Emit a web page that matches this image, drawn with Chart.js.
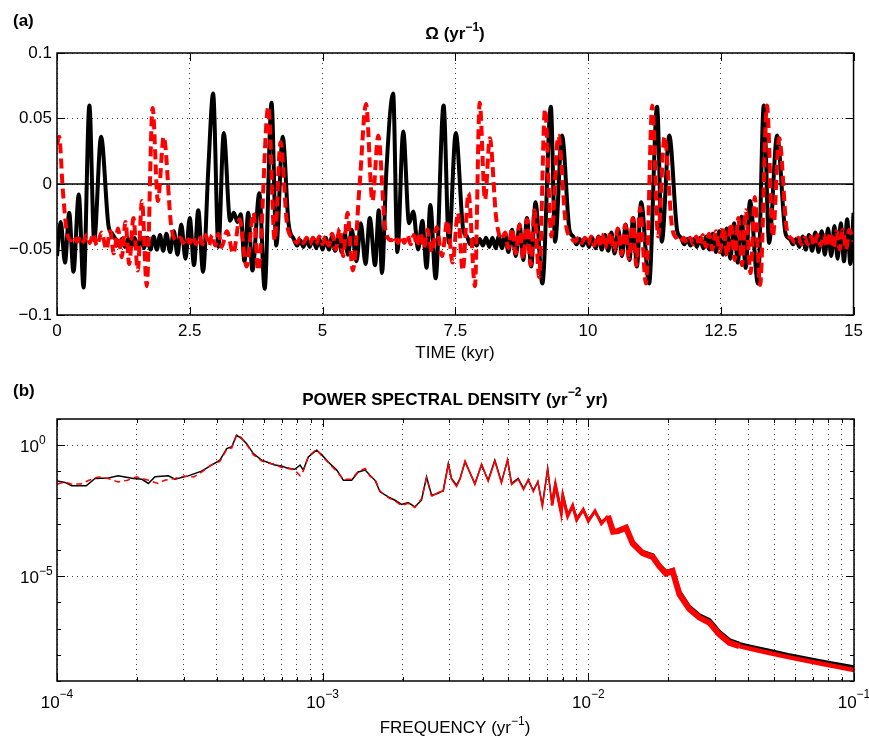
<!DOCTYPE html>
<html>
<head>
<meta charset="utf-8">
<script src="https://cdn.jsdelivr.net/npm/chart.js@4.4.1/dist/chart.umd.min.js"></script>
<style>
  html, body { margin: 0; padding: 0; background: #fff; }
  #wrap { position: relative; width: 869px; height: 737px; }
  canvas { position: absolute; left: 0; }
  #chartOmega { top: 0; }
  #chartPsd { top: 370px; }
</style>
</head>
<body>
<div id="wrap">
  <canvas id="chartOmega" width="869" height="370"></canvas>
  <canvas id="chartPsd" width="869" height="367"></canvas>
</div>
<script>
// (a) Omega ao longo do tempo
const timeTicks = [0, 2.5, 5, 7.5, 10, 12.5, 15];
const omegaTicks = [-0.1, -0.05, 0, 0.05, 0.1];
const zeroT = [0, 15];
const zeroV = [0, 0];

const blackT = [0.00, 0.07, 0.15, 0.23, 0.31, 0.41, 0.50, 0.61, 0.70, 0.83, 0.97, 1.04,
  1.10, 1.16, 1.22, 1.28, 1.34, 1.40, 1.46, 1.52, 1.58, 1.64, 1.70, 1.76, 1.82, 1.88, 1.94, 2.00, 2.06,
  2.13, 2.20, 2.27, 2.34, 2.42, 2.50, 2.58, 2.66, 2.75, 2.85, 2.94, 3.04, 3.14, 3.26, 3.33, 3.40, 3.46, 3.53, 3.60, 3.68, 3.81, 3.91, 4.04, 4.13, 4.25, 4.36,
  4.46, 4.52, 4.58, 4.64, 4.70, 4.76, 4.82, 4.88, 4.94, 5.00, 5.06, 5.12, 5.18, 5.24, 5.30, 5.36, 5.42, 5.48,
  5.55, 5.64, 5.72, 5.81, 5.89, 5.99, 6.06, 6.12, 6.20, 6.33, 6.41, 6.52, 6.63, 6.71, 6.80, 6.88, 6.96, 7.03, 7.13, 7.28, 7.38, 7.51, 7.65,
  7.72, 7.78, 7.84, 7.90, 7.96, 8.02, 8.08, 8.14, 8.20, 8.26, 8.32, 8.38,
  8.44, 8.50, 8.57, 8.64, 8.71, 8.78, 8.85, 8.93, 9.01, 9.14, 9.30, 9.38, 9.51, 9.65,
  9.72, 9.78, 9.84, 9.90, 9.96, 10.02, 10.08, 10.14, 10.20, 10.26, 10.32, 10.38,
  10.44, 10.50, 10.57, 10.64, 10.71, 10.78, 10.85, 10.92, 11.00, 11.15, 11.30, 11.39, 11.53, 11.68,
  11.75, 11.81, 11.87, 11.93, 11.99, 12.05, 12.11, 12.17, 12.23, 12.29,
  12.35, 12.41, 12.47, 12.54, 12.61, 12.68, 12.75, 12.82, 12.89, 12.97, 13.05, 13.20, 13.31, 13.41, 13.56, 13.72,
  13.80, 13.86, 13.92, 13.98, 14.04, 14.10, 14.16, 14.22, 14.28, 14.34, 14.40, 14.46, 14.52, 14.58, 14.64, 14.70, 14.76, 14.82, 14.88, 14.94, 15.00];
const blackV = [-0.055, -0.029, -0.060, -0.022, -0.067, -0.008, -0.079, 0.060, -0.043, 0.036, -0.032, -0.038,
  -0.042, -0.047, -0.042, -0.048, -0.042, -0.048, -0.041, -0.049, -0.041, -0.049, -0.041, -0.050, -0.040, -0.050, -0.039, -0.051, -0.038,
  -0.052, -0.036, -0.054, -0.031, -0.057, -0.026, -0.062, -0.020, -0.067, 0.012, 0.069, -0.048, 0.039, -0.028, -0.022, -0.029, -0.023, -0.059, -0.022, -0.066, -0.007, -0.080, 0.062, -0.047, 0.036, -0.030,
  -0.042, -0.047, -0.043, -0.048, -0.042, -0.048, -0.041, -0.049, -0.042, -0.050, -0.041, -0.050, -0.040, -0.051, -0.039, -0.052, -0.038, -0.054,
  -0.035, -0.059, -0.030, -0.061, -0.026, -0.062, -0.020, -0.068, 0.008, 0.069, -0.052, 0.040, -0.030, -0.021, -0.050, -0.028, -0.064, -0.016, -0.072, 0.060, -0.045, 0.039, -0.035,
  -0.040, -0.046, -0.042, -0.047, -0.042, -0.047, -0.041, -0.048, -0.041, -0.049, -0.040, -0.049,
  -0.038, -0.052, -0.035, -0.055, -0.031, -0.058, -0.026, -0.063, -0.014, -0.076, 0.059, -0.044, 0.037, -0.035,
  -0.040, -0.046, -0.042, -0.047, -0.042, -0.048, -0.041, -0.049, -0.040, -0.050, -0.039, -0.051,
  -0.037, -0.053, -0.035, -0.055, -0.031, -0.058, -0.026, -0.063, -0.014, -0.076, 0.059, -0.044, 0.037, -0.036,
  -0.041, -0.046, -0.042, -0.047, -0.042, -0.048, -0.041, -0.049, -0.040, -0.050,
  -0.038, -0.052, -0.036, -0.054, -0.034, -0.057, -0.030, -0.060, -0.025, -0.064, -0.013, -0.076, 0.060, -0.045, 0.037, -0.038,
  -0.042, -0.046, -0.042, -0.048, -0.040, -0.050, -0.039, -0.051, -0.037, -0.052, -0.036, -0.054, -0.034, -0.055, -0.032, -0.057, -0.030, -0.059, -0.027, -0.061, -0.022];

const redT = [0.00, 0.04, 0.11, 0.18, 0.26, 0.32, 0.38, 0.44, 0.50, 0.56, 0.62, 0.68, 0.75, 0.84, 0.93, 1.00, 1.07, 1.15, 1.22, 1.29, 1.36, 1.44, 1.52, 1.60, 1.69, 1.80, 1.90, 2.01, 2.15,
  2.26, 2.32, 2.38, 2.44, 2.50, 2.56, 2.62, 2.68, 2.74, 2.80, 2.86, 2.92, 2.98, 3.04, 3.10,
  3.20, 3.32, 3.44, 3.57, 3.70, 3.79, 3.98, 4.10, 4.21, 4.33, 4.45,
  4.52, 4.58, 4.64, 4.70, 4.76, 4.82, 4.88, 4.94, 5.00, 5.06, 5.12, 5.18, 5.25, 5.32, 5.39, 5.47, 5.57, 5.70, 5.82, 5.94, 6.05, 6.18, 6.30,
  6.36, 6.42, 6.48, 6.54, 6.60, 6.66, 6.72, 6.78, 6.84, 6.91, 6.98, 7.06, 7.15, 7.25, 7.35, 7.45, 7.55, 7.64, 7.75, 7.87, 7.96, 8.06, 8.15, 8.27, 8.38,
  8.44, 8.50, 8.57, 8.64, 8.71, 8.78, 8.85, 8.92, 8.99, 9.08, 9.19, 9.31, 9.44, 9.58, 9.70,
  9.76, 9.82, 9.88, 9.94, 10.00, 10.06, 10.12, 10.18, 10.24, 10.30, 10.36, 10.42, 10.49, 10.56, 10.63, 10.70, 10.77, 10.84, 10.91, 10.98, 11.09, 11.21, 11.32, 11.44, 11.58, 11.68,
  11.74, 11.80, 11.86, 11.92, 11.98, 12.04, 12.10, 12.16, 12.22, 12.28, 12.34, 12.41, 12.48, 12.55, 12.62, 12.69, 12.76, 12.83, 12.90, 12.97, 13.06, 13.14, 13.24, 13.37, 13.48, 13.60, 13.74, 13.84,
  13.90, 13.96, 14.02, 14.08, 14.14, 14.20, 14.26, 14.32, 14.38, 14.44, 14.50, 14.56, 14.62, 14.68, 14.74, 14.80, 14.86, 14.92, 15.00];
const redV = [0.030, 0.036, -0.005, -0.035, -0.043, -0.040, -0.044, -0.040, -0.044, -0.039, -0.045, -0.038, -0.047, -0.037, -0.050, -0.036, -0.053, -0.034, -0.056, -0.029, -0.061, -0.026, -0.066, -0.013, -0.078, 0.058, -0.013, 0.036, -0.032,
  -0.043, -0.041, -0.045, -0.041, -0.045, -0.040, -0.046, -0.040, -0.046, -0.039, -0.047, -0.039, -0.047, -0.038, -0.048,
  -0.036, -0.053, -0.027, -0.063, -0.022, -0.066, 0.059, -0.043, 0.032, -0.030, -0.042,
  -0.045, -0.041, -0.045, -0.041, -0.046, -0.041, -0.046, -0.040, -0.046, -0.040, -0.047, -0.038, -0.050, -0.034, -0.055, -0.022, -0.066, 0.000, 0.061, -0.013, 0.037, -0.034, -0.043,
  -0.040, -0.045, -0.040, -0.045, -0.039, -0.046, -0.039, -0.047, -0.037, -0.049, -0.035, -0.052, -0.033, -0.055, -0.028, -0.060, -0.022, -0.066, -0.007, -0.078, 0.062, -0.012, 0.035, -0.026, -0.042,
  -0.037, -0.049, -0.034, -0.053, -0.031, -0.057, -0.027, -0.062, -0.020, -0.071, 0.057, -0.040, 0.037, -0.030, -0.042,
  -0.044, -0.041, -0.045, -0.041, -0.046, -0.040, -0.047, -0.039, -0.048, -0.038, -0.049, -0.037, -0.051, -0.034, -0.054, -0.031, -0.057, -0.026, -0.062, -0.018, -0.076, 0.060, -0.040, 0.036, -0.032, -0.042,
  -0.044, -0.041, -0.045, -0.041, -0.046, -0.040, -0.047, -0.039, -0.048, -0.038, -0.050, -0.036, -0.052, -0.033, -0.055, -0.030, -0.058, -0.026, -0.062, -0.020, -0.068, -0.010, -0.077, 0.060, -0.040, 0.035, -0.034, -0.042,
  -0.045, -0.041, -0.046, -0.041, -0.046, -0.040, -0.047, -0.039, -0.047, -0.039, -0.048, -0.037, -0.049, -0.036, -0.050, -0.035, -0.050, -0.035, -0.044];

// (b) densidade espectral (expoentes lidos: log10 f, log10 P)
const freqMajor = [1e-4, 1e-3, 1e-2, 1e-1];
const freqMinorMult = [2, 3, 4, 5, 6, 7, 8, 9];
const psdTicks = [1e-5, 1e0];
const psdDecades = [1e-9, 1e-8, 1e-7, 1e-6, 1e-5, 1e-4, 1e-3, 1e-2, 1e-1, 1e0, 1e1];

const psdBlackLogF = [-4.000, -3.970, -3.945, -3.890, -3.857, -3.807, -3.770, -3.713, -3.680, -3.656, -3.631, -3.581, -3.556, -3.506,
  -3.456, -3.418, -3.387, -3.361, -3.342, -3.324, -3.305, -3.286, -3.261, -3.230, -3.205, -3.180, -3.155, -3.130, -3.105, -3.085, -3.073,
  -3.054, -3.023, -3.004, -2.979, -2.947, -2.922, -2.891, -2.866, -2.840, -2.822, -2.803, -2.784, -2.753, -2.728, -2.703, -2.678, -2.653,
  -2.628, -2.609, -2.590, -2.565, -2.546, -2.527, -2.515, -2.496, -2.483, -2.464, -2.427, -2.402, -2.377, -2.352, -2.327, -2.304, -2.289,
  -2.264, -2.244, -2.226, -2.207, -2.190, -2.173, -2.153, -2.137, -2.124, -2.102, -2.096, -2.078, -2.059, -2.044, -2.019, -2.000, -1.975,
  -1.951, -1.926, -1.907, -1.889, -1.858, -1.833, -1.796, -1.758, -1.733, -1.708, -1.683, -1.657, -1.620, -1.582, -1.544, -1.507, -1.469,
  -1.432, -1.394, -1.323, -1.248, -1.122, -1.000];
const psdBlackLogP = [-1.37, -1.42, -1.55, -1.55, -1.27, -1.25, -1.17, -1.27, -1.30, -1.46, -1.20, -1.17, -1.30, -1.17,
  -0.99, -0.76, -0.57, -0.13, -0.06, 0.38, 0.25, 0.06, -0.32, -0.57, -0.66, -0.76, -0.79, -0.89, -0.92, -0.76, -0.95,
  -0.45, -0.19, -0.36, -0.64, -0.95, -1.34, -1.34, -1.02, -0.95, -1.15, -1.34, -1.78, -1.97, -2.10, -2.26, -2.19, -2.35,
  -2.10, -1.21, -1.91, -1.84, -1.72, -0.70, -1.27, -1.53, -1.27, -0.64, -1.46, -0.76, -1.34, -0.57, -1.40, -0.57, -1.46,
  -1.27, -1.65, -1.34, -1.72, -1.40, -2.29, -0.89, -2.23, -1.53, -2.54, -1.91, -2.67, -2.35, -2.80, -2.48, -2.86, -2.54,
  -2.93, -2.74, -3.24, -3.31, -3.18, -3.69, -4.07, -4.20, -4.58, -4.83, -4.77, -5.60, -6.17, -6.49, -6.68, -7.12, -7.44,
  -7.57, -7.66, -7.82, -7.99, -8.24, -8.46];

const psdRedLogF = [-4.000, -3.970, -3.945, -3.910, -3.880, -3.845, -3.807, -3.770, -3.735, -3.700, -3.656, -3.620, -3.595, -3.556, -3.520, -3.485,
  -3.456, -3.418, -3.387, -3.361, -3.342, -3.324, -3.305, -3.286, -3.261, -3.230, -3.205, -3.180, -3.155, -3.130, -3.105, -3.085, -3.073,
  -3.054, -3.023, -3.004, -2.979, -2.947, -2.922, -2.891, -2.866, -2.840, -2.822, -2.803, -2.784, -2.753, -2.728, -2.703, -2.678, -2.653,
  -2.628, -2.609, -2.590, -2.565, -2.546, -2.527, -2.515, -2.496, -2.483, -2.464, -2.427, -2.402, -2.377, -2.352, -2.327, -2.304, -2.289,
  -2.264, -2.244, -2.226, -2.207, -2.190, -2.173, -2.153, -2.137, -2.124, -2.102, -2.096, -2.078, -2.059, -2.044, -2.019, -2.000, -1.975,
  -1.951, -1.926, -1.907, -1.889, -1.858, -1.833, -1.796, -1.758, -1.733, -1.708, -1.683, -1.657, -1.620, -1.582, -1.544, -1.507, -1.469,
  -1.432, -1.394, -1.323, -1.248, -1.122, -1.000];
const psdRedLogP = [-1.49, -1.40, -1.49, -1.48, -1.34, -1.21, -1.27, -1.40, -1.34, -1.21, -1.34, -1.46, -1.34, -1.27, -1.18, -1.21,
  -1.03, -0.74, -0.62, -0.16, -0.10, 0.40, 0.28, 0.02, -0.36, -0.60, -0.69, -0.72, -0.85, -0.86, -0.95, -1.17, -0.98,
  -0.43, -0.16, -0.40, -0.66, -1.00, -1.30, -1.30, -1.00, -0.89, -1.18, -1.30, -1.75, -2.00, -2.13, -2.30, -2.22, -2.38,
  -2.05, -1.25, -1.95, -1.80, -1.75, -0.74, -1.30, -1.58, -1.30, -0.60, -1.50, -0.72, -1.38, -0.60, -1.45, -0.55, -1.50,
  -1.30, -1.70, -1.30, -1.78, -1.38, -2.35, -0.92, -2.30, -1.50, -2.60, -1.95, -2.72, -2.30, -2.86, -2.45, -2.90, -2.50,
  -3.00, -2.70, -3.30, -3.28, -3.15, -3.75, -4.12, -4.26, -4.62, -4.90, -4.80, -5.70, -6.25, -6.58, -6.78, -7.22, -7.54,
  -7.67, -7.76, -7.92, -8.09, -8.34, -8.58];

const FONT = "'Liberation Sans', Arial, Helvetica, sans-serif";

function pontos(xs, ys) {
    return xs.map((x, i) => ({ x: x, y: ys[i] }));
}
function pontosLog(lf, lp) {
    return lf.map((f, i) => ({ x: Math.pow(10, f), y: Math.pow(10, lp[i]) }));
}

// texto com expoente: partes = [[texto, sobrescrito?], ...]
function textoRico(ctx, partes, x, base, align, bold, sup) {
    const fMain = (bold ? 'bold ' : '') + '17px ' + FONT;
    const fSup = (bold ? 'bold ' : '') + '12px ' + FONT;
    let w = 0;
    partes.forEach(p => { ctx.font = p[1] ? fSup : fMain; w += ctx.measureText(p[0]).width; });
    let x0 = align === 'center' ? x - w / 2 : (align === 'right' ? x - w : x);
    ctx.textAlign = 'left';
    ctx.textBaseline = 'alphabetic';
    ctx.fillStyle = '#000';
    partes.forEach(p => {
        ctx.font = p[1] ? fSup : fMain;
        ctx.fillText(p[0], x0, p[1] ? base - sup : base);
        x0 += ctx.measureText(p[0]).width;
    });
}

// moldura e marcas internas (estilo MATLAB)
function moldura(chart, xMarks, yMarks) {
    const { ctx, chartArea: a, scales } = chart;
    ctx.save();
    ctx.strokeStyle = '#000';
    ctx.lineWidth = 1;
    ctx.beginPath();
    xMarks.forEach(m => {
        const px = Math.round(scales.x.getPixelForValue(m[0])) + 0.5;
        ctx.moveTo(px, a.bottom); ctx.lineTo(px, a.bottom - m[1]);
        ctx.moveTo(px, a.top); ctx.lineTo(px, a.top + m[1]);
    });
    yMarks.forEach(m => {
        const py = Math.round(scales.y.getPixelForValue(m[0])) + 0.5;
        ctx.moveTo(a.left, py); ctx.lineTo(a.left + m[1], py);
        ctx.moveTo(a.right, py); ctx.lineTo(a.right - m[1], py);
    });
    ctx.stroke();
    ctx.lineWidth = 1.5;
    ctx.strokeRect(a.left, a.top, a.right - a.left, a.bottom - a.top);
    ctx.restore();
}

const gridOpts = { color: 'rgba(0,0,0,0.75)', lineWidth: 1, drawTicks: false, tickLength: 0 };
const borderOpts = { display: false, dash: [1, 4] };

// Gráfico (a)
new Chart(document.getElementById('chartOmega').getContext('2d'), {
    type: 'line',
    data: {
        datasets: [
            { data: pontos(redT, redV), borderColor: '#ff0000', borderWidth: 4, borderDash: [10, 5],
              cubicInterpolationMode: 'monotone', pointRadius: 0, order: 1 },
            { data: pontos(blackT, blackV), borderColor: '#000000', borderWidth: 4,
              cubicInterpolationMode: 'monotone', pointRadius: 0, order: 2 },
            { data: pontos(zeroT, zeroV), borderColor: '#000000', borderWidth: 1.5,
              pointRadius: 0, order: 3 }
        ]
    },
    options: {
        responsive: false,
        animation: false,
        devicePixelRatio: 1,
        layout: { padding: { top: 53, right: 15, left: 0, bottom: 0 } },
        plugins: { legend: { display: false }, tooltip: { enabled: false }, title: { display: false } },
        scales: {
            x: {
                type: 'linear', min: 0, max: 15,
                afterBuildTicks: s => { s.ticks = timeTicks.map(v => ({ value: v })); },
                afterFit: s => { s.height = 55; },
                ticks: { autoSkip: false, maxRotation: 0, padding: 6, color: '#000',
                         font: { family: FONT, size: 17 }, callback: v => String(v) },
                grid: gridOpts, border: borderOpts
            },
            y: {
                type: 'linear', min: -0.1, max: 0.1,
                afterBuildTicks: s => { s.ticks = omegaTicks.map(v => ({ value: v })); },
                afterFit: s => { s.width = 57; },
                ticks: { autoSkip: false, padding: 5, color: '#000', font: { family: FONT, size: 17 },
                         callback: v => { const r = Math.round(v * 100) / 100; return r < 0 ? '\u2212' + String(-r) : String(r); } },
                grid: gridOpts, border: borderOpts
            }
        }
    },
    plugins: [{
        id: 'textosA',
        afterDraw(chart) {
            const ctx = chart.ctx;
            moldura(chart, timeTicks.map(v => [v, 8]), omegaTicks.map(v => [v, 8]));
            ctx.save();
            textoRico(ctx, [['(a)', 0]], 13, 26, 'left', true, 8);
            textoRico(ctx, [['\u03A9 (yr', 0], ['\u22121', 1], [')', 0]], 455, 39, 'center', true, 8);
            textoRico(ctx, [['TIME (kyr)', 0]], 455, 358, 'center', false, 8);
            ctx.restore();
        }
    }]
});

// Gráfico (b)
const freqTicks = [];
freqMajor.forEach((d, i) => {
    freqTicks.push(d);
    if (i < freqMajor.length - 1) freqMinorMult.forEach(m => freqTicks.push(d * m));
});

function larguraBanda(ctx, fina, media, grossa, ponta) {
    const lf = Math.log10(ctx.p0.parsed.x);
    if (lf < -2.15) return fina;
    if (lf < -1.95) return media;
    if (lf < -1.45) return grossa;
    return ponta;
}

new Chart(document.getElementById('chartPsd').getContext('2d'), {
    type: 'line',
    data: {
        datasets: [
            { data: pontosLog(psdRedLogF, psdRedLogP), borderColor: '#ff0000', borderWidth: 1.5, borderDash: [6, 4],
              pointRadius: 0, order: 1,
              segment: {
                  borderWidth: c => larguraBanda(c, 1.5, 3, 6, 4.5),
                  borderDash: c => Math.log10(c.p0.parsed.x) < -2.6 ? [6, 4] : []
              } },
            { data: pontosLog(psdBlackLogF, psdBlackLogP), borderColor: '#000000', borderWidth: 1.5,
              pointRadius: 0, order: 2,
              segment: { borderWidth: c => larguraBanda(c, 1.5, 2.5, 4, 3) } }
        ]
    },
    options: {
        responsive: false,
        animation: false,
        devicePixelRatio: 1,
        layout: { padding: { top: 49, right: 15, left: 0, bottom: 0 } },
        plugins: { legend: { display: false }, tooltip: { enabled: false }, title: { display: false } },
        scales: {
            x: {
                type: 'logarithmic', min: 1e-4, max: 1e-1,
                afterBuildTicks: s => { s.ticks = freqTicks.map(v => ({ value: v })); },
                afterFit: s => { s.height = 56; },
                ticks: { display: false },
                grid: gridOpts, border: borderOpts
            },
            y: {
                type: 'logarithmic', min: 1e-9, max: 1e1,
                afterBuildTicks: s => { s.ticks = psdTicks.map(v => ({ value: v })); },
                afterFit: s => { s.width = 57; },
                ticks: { display: false },
                grid: gridOpts, border: borderOpts
            }
        }
    },
    plugins: [{
        id: 'textosB',
        afterDraw(chart) {
            const ctx = chart.ctx;
            const xs = chart.scales.x, ys = chart.scales.y;
            const xMarks = freqTicks.map(v => [v, freqMajor.includes(v) ? 8 : 4]);
            const yMarks = psdDecades.map(v => [v, psdTicks.includes(v) ? 8 : 4]);
            moldura(chart, xMarks, yMarks);
            ctx.save();
            freqMajor.forEach(v => {
                const e = Math.round(Math.log10(v));
                textoRico(ctx, [['10', 0], ['\u2212' + Math.abs(e), 1]], xs.getPixelForValue(v), 338, 'center', false, 10);
            });
            psdTicks.forEach(v => {
                const e = Math.round(Math.log10(v));
                const lab = e < 0 ? '\u2212' + Math.abs(e) : String(e);
                textoRico(ctx, [['10', 0], [lab, 1]], 20, ys.getPixelForValue(v) + 7, 'left', false, 8);
            });
            textoRico(ctx, [['(b)', 0]], 13, 26, 'left', true, 8);
            textoRico(ctx, [['POWER SPECTRAL DENSITY (yr', 0], ['\u22122', 1], [' yr)', 0]], 455, 35, 'center', true, 9);
            textoRico(ctx, [['FREQUENCY (yr', 0], ['\u22121', 1], [')', 0]], 455, 363, 'center', false, 8);
            ctx.restore();
        }
    }]
});
</script>
</body>
</html>
